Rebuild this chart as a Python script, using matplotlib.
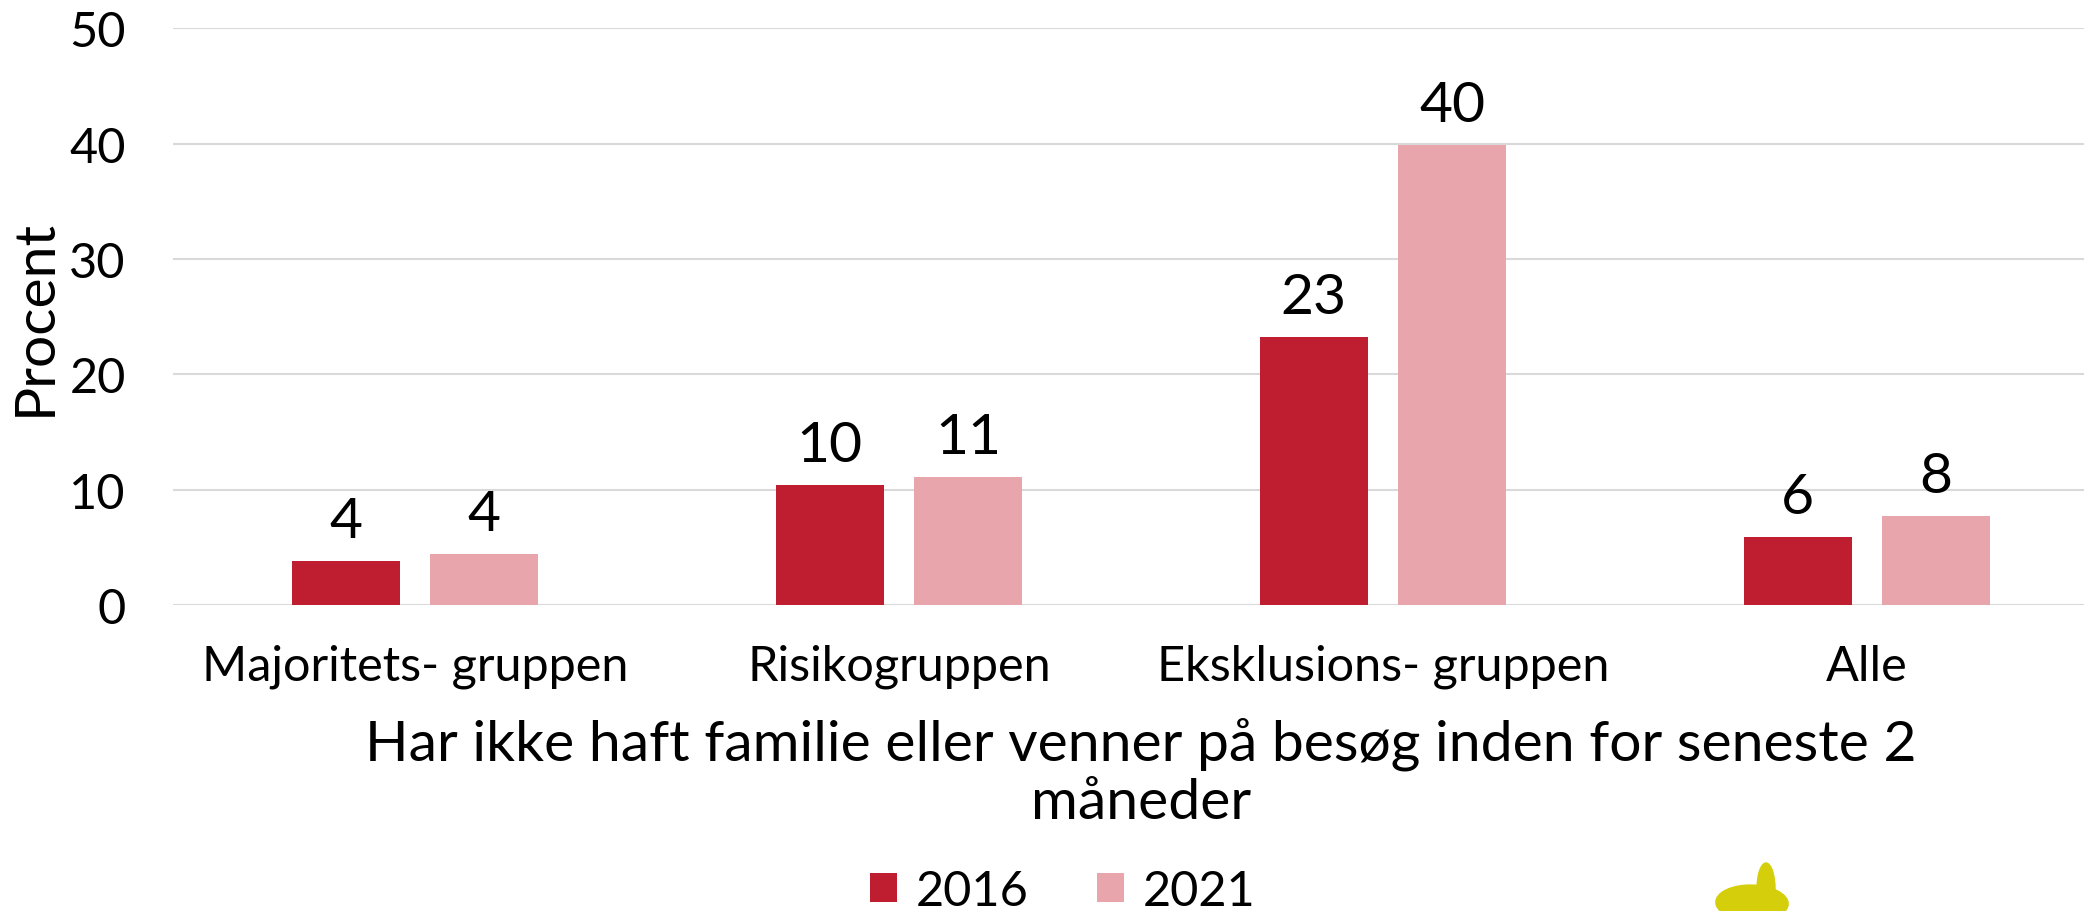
import matplotlib.pyplot as plt
import numpy as np
from matplotlib.patches import Ellipse

# Data
categories = ["Majoritets- gruppen", "Risikogruppen", "Eksklusions- gruppen", "Alle"]
years = ["2016", "2021"]
values_2016 = [3.8, 10.4, 23.2, 5.9]
values_2021 = [4.4, 11.1, 39.9, 7.7]
labels_2016 = ["4", "10", "23", "6"]
labels_2021 = ["4", "11", "40", "8"]
yticks = [0, 10, 20, 30, 40, 50]

plt.rcParams['font.family'] = ['Lato', 'DejaVu Sans']

fig = plt.figure(figsize=(20.84, 9.12), dpi=100)
ax = fig.add_axes([0.083, 0.3355, 0.929, 0.6325])

x = np.arange(len(categories))
w = 0.223
off = 0.143
colors = ['#BE1E2F', '#E8A6AC']

b1 = ax.bar(x - off, values_2016, w, color=colors[0], label=years[0], zorder=3)
b2 = ax.bar(x + off, values_2021, w, color=colors[1], label=years[1], zorder=3)

for bars, labs in [(b1, labels_2016), (b2, labels_2021)]:
    for bar, lab in zip(bars, labs):
        ax.annotate(lab, (bar.get_x() + bar.get_width() / 2, bar.get_height()),
                    xytext=(0, 10), textcoords='offset points',
                    ha='center', va='bottom', fontsize=41)

ax.set_xlim(-0.5, 3.5)
ax.set_ylim(0, 50)
ax.set_yticks(yticks)
ax.set_xticks(x)
ax.set_xticklabels(categories, fontsize=35)
ax.tick_params(axis='y', labelsize=35, length=0, pad=34)
ax.tick_params(axis='x', length=0, pad=28)
ax.grid(axis='y', color='#D9D9D9', linewidth=1.5, zorder=0)
for s in ax.spines.values():
    s.set_visible(False)

ax.set_ylabel('Procent', fontsize=41)
ax.yaxis.set_label_coords(-0.058, 0.5)

ax.text(0.5, -0.29, "Har ikke haft familie eller venner på besøg inden for seneste 2\nmåneder",
        transform=ax.transAxes, ha='center', va='center', fontsize=41, linespacing=1.15)

fig.legend(handles=[b1, b2], labels=years, loc='center', ncol=2,
           bbox_to_anchor=(0.51, 0.022), frameon=False, fontsize=35,
           handlelength=0.55, handleheight=0.55, handletextpad=0.4, columnspacing=1.4)

# decorative logo fragment at bottom edge
fig.patches.append(Ellipse((1752 / 2084, 8 / 912), 72 / 2084, 36 / 912, angle=10,
                           transform=fig.transFigure, color='#D4CF0A'))
fig.patches.append(Ellipse((1766 / 2084, 22 / 912), 18 / 2084, 52 / 912,
                           transform=fig.transFigure, color='#D4CF0A'))

plt.savefig('out.png', dpi=100)
